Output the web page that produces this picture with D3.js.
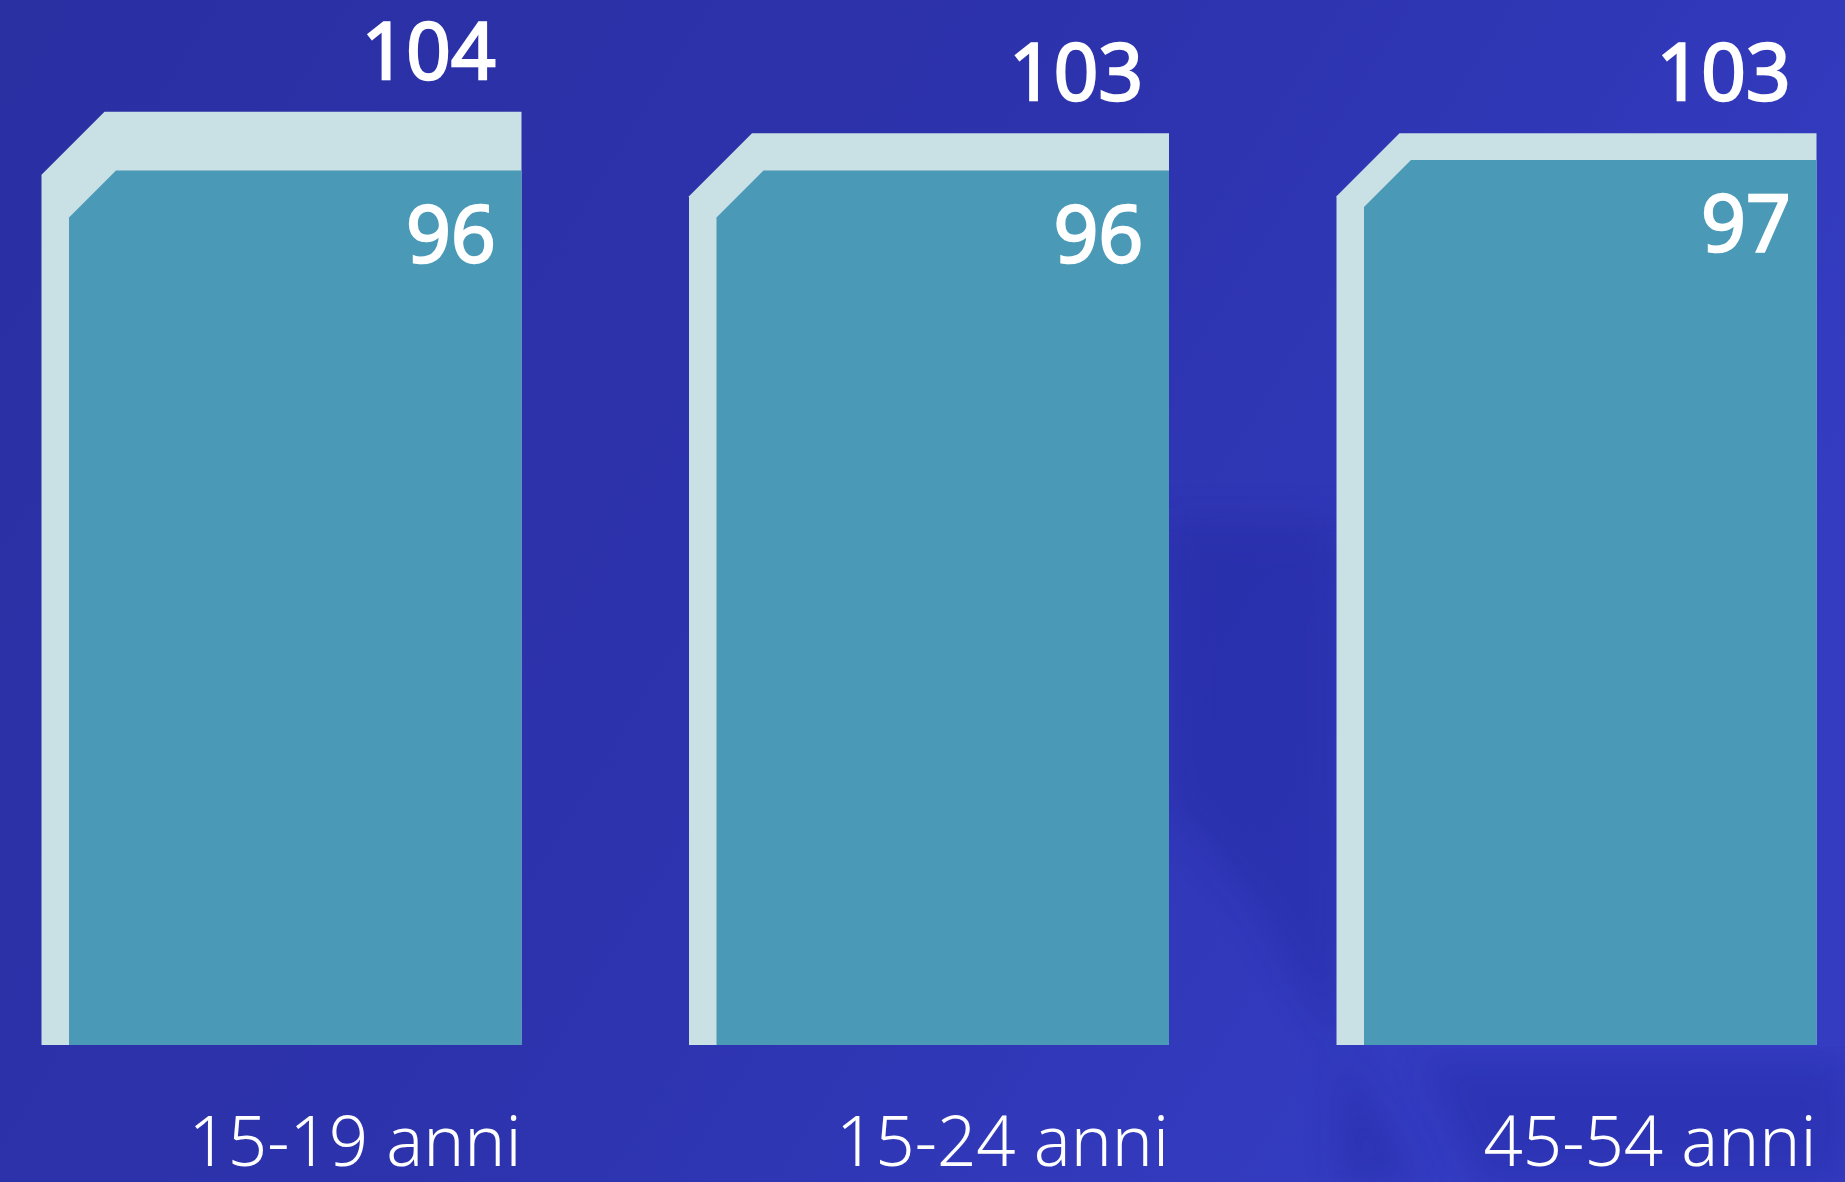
<!DOCTYPE html>
<html>
<head>
<meta charset="utf-8">
<script src="https://cdn.jsdelivr.net/npm/d3@7"></script>
<style>
  html, body { margin: 0; padding: 0; background: #2d32a8; }
  svg { display: block; }
</style>
</head>
<body>
<svg id="chart" width="1845" height="1182"></svg>
<script>
"use strict"

// ======================================================================
// data
const categories = ["15-19 anni", "15-24 anni", "45-54 anni"];
const totalValues = [104, 103, 103];   // light outer bar
const innerValues = [96, 96, 97];      // teal inner bar

// ======================================================================
const W = 1845, H = 1182;
const svg = d3.select("#chart");

// background with a soft gradient and a few faint diagonal shapes
const defs = svg.append("defs");
const grad = defs.append("linearGradient")
  .attr("id", "bg").attr("x1", 0).attr("y1", 0).attr("x2", 1).attr("y2", 0.4);
grad.append("stop").attr("offset", "0%").attr("stop-color", "#2a2fa2");
grad.append("stop").attr("offset", "55%").attr("stop-color", "#2d33ad");
grad.append("stop").attr("offset", "100%").attr("stop-color", "#343cc2");

defs.append("filter").attr("id", "soft")
  .append("feGaussianBlur").attr("stdDeviation", 18);

svg.append("rect").attr("width", W).attr("height", H).attr("fill", "url(#bg)");

const shapes = [
  [[1168, 520], [1340, 520], [1340, 1182], [1420, 1182], [1250, 900], [1168, 800]],
  [[1420, 1060], [1845, 1060], [1845, 1182], [1480, 1182]]
];
svg.selectAll(".shade")
  .data(shapes)
  .enter().append("path")
    .attr("class", "shade")
    .attr("d", d => d3.line()(d) + "Z")
    .attr("fill", "#1e2398")
    .attr("opacity", 0.3)
    .attr("filter", "url(#soft)");

// ======================================================================
// scales
const x = d3.scaleBand()
  .domain(categories)
  .range([41.5, 1816.5])
  .paddingInner(0.2587)
  .paddingOuter(0);

const baseY = 1045;
// the picture is not drawn to a common scale, so each series gets its own
const yOuter = d3.scaleLinear().domain([103, 104]).range([133.2, 111.7]);
const yInner = d3.scaleLinear().domain([96, 97]).range([170.5, 160]);

const stripe = 27.5;   // width of the light edge on the left
const cutOuter = 63;   // chamfer of the outer bar
const cutInner = 47;   // chamfer of the inner bar

const rows = categories.map((c, i) => ({ cat: c, total: totalValues[i], inner: innerValues[i] }));

// chamfered bar path
function bevelBar(x0, x1, top, cut) {
  return `M${x0},${baseY} L${x0},${top + cut} L${x0 + cut},${top} L${x1},${top} L${x1},${baseY} Z`;
}

const g = svg.append("g");

g.selectAll(".bar-outer")
  .data(rows)
  .enter().append("path")
    .attr("class", "bar-outer")
    .attr("d", d => bevelBar(x(d.cat), x(d.cat) + x.bandwidth(), yOuter(d.total), cutOuter))
    .attr("fill", "#c9e1e4");

g.selectAll(".bar-inner")
  .data(rows)
  .enter().append("path")
    .attr("class", "bar-inner")
    .attr("d", d => bevelBar(x(d.cat) + stripe, x(d.cat) + x.bandwidth(), yInner(d.inner), cutInner))
    .attr("fill", "#4a9ab7");

// value labels (regular face with a thin stroke to get a medium weight)
const valueFont = "'Open Sans', 'Noto Sans', sans-serif";

g.selectAll(".lbl-total")
  .data(rows)
  .enter().append("text")
    .attr("class", "lbl-total")
    .attr("x", d => x(d.cat) + x.bandwidth() - 26)
    .attr("y", d => yOuter(d.total) - 33)
    .attr("text-anchor", "end")
    .attr("fill", "#ffffff")
    .attr("stroke", "#ffffff")
    .attr("stroke-width", 2.6)
    .style("font-family", valueFont)
    .style("font-size", "78px")
    .text(d => d.total);

g.selectAll(".lbl-inner")
  .data(rows)
  .enter().append("text")
    .attr("class", "lbl-inner")
    .attr("x", d => x(d.cat) + x.bandwidth() - 26)
    .attr("y", d => yInner(d.inner) + 91)
    .attr("text-anchor", "end")
    .attr("fill", "#ffffff")
    .attr("stroke", "#ffffff")
    .attr("stroke-width", 2.6)
    .style("font-family", valueFont)
    .style("font-size", "78px")
    .text(d => d.inner);

// category labels under the bars
g.selectAll(".lbl-cat")
  .data(rows)
  .enter().append("text")
    .attr("class", "lbl-cat")
    .attr("x", d => x(d.cat) + x.bandwidth())
    .attr("y", 1166)
    .attr("text-anchor", "end")
    .attr("fill", "#ffffff")
    .style("font-family", "'Noto Sans', sans-serif")
    .style("font-weight", 300)
    .style("font-size", "69px")
    .text(d => d.cat);
</script>
</body>
</html>
